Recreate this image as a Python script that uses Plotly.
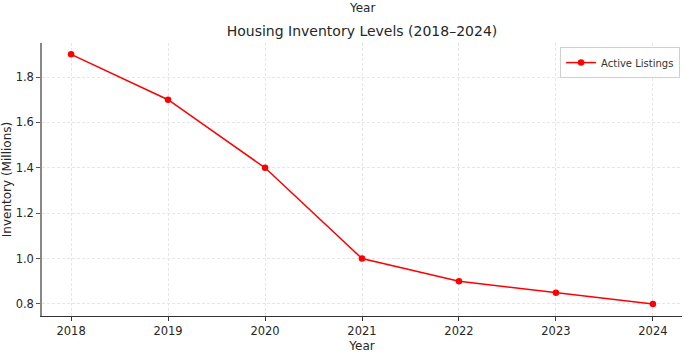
import plotly.graph_objects as go

years = [2018, 2019, 2020, 2021, 2022, 2023, 2024]
inventory = [1.9, 1.7, 1.4, 1.0, 0.9, 0.85, 0.8]
y_ticks = [0.8, 1.0, 1.2, 1.4, 1.6, 1.8]

FONT = "DejaVu Sans"
H = 359
T, B = 43, 43
PH = H - T - B

fig = go.Figure()
fig.add_trace(go.Scatter(
    x=years, y=inventory, mode="lines+markers", name="Active Listings",
    line=dict(color="#ff0000", width=1.5),
    marker=dict(color="#ff0000", size=6.5),
))

fig.update_layout(
    width=697, height=H,
    margin=dict(l=42, r=15, t=T, b=B, autoexpand=False),
    paper_bgcolor="white", plot_bgcolor="white",
    font=dict(family=FONT, size=11.5, color="#262626"),
    title=dict(text="Housing Inventory Levels (2018–2024)", x=0.5, xref="paper",
               xanchor="center",
               y=1 - 31 / H, yref="container", yanchor="middle",
               font=dict(size=14, color="#262626")),
    showlegend=True,
    legend=dict(x=0.997, y=0.985, xanchor="right", yanchor="top",
                bgcolor="white", bordercolor="#d0d0d0", borderwidth=1,
                itemwidth=30,
                font=dict(size=10, color="#333333")),
    annotations=[dict(text="Year", x=0.5, xref="paper",
                      y=1 + (T - 8) / PH, yref="paper",
                      yanchor="middle", showarrow=False,
                      font=dict(size=12, color="#262626"))],
)

fig.update_xaxes(
    range=[2017.7, 2024.3], tickvals=years, ticktext=[str(y) for y in years],
    showline=True, linecolor="#333333", linewidth=1.2,
    ticks="outside", ticklen=4, tickcolor="#333333",
    showgrid=True, gridcolor="#e6e6e6", griddash="3px,2px", gridwidth=0.8,
    zeroline=False, mirror=False, automargin=False,
    title=dict(text="Year", standoff=4, font=dict(size=12)),
)
fig.update_yaxes(
    range=[0.747, 1.95], tickvals=y_ticks, ticktext=[f"{v:.1f}" for v in y_ticks],
    showline=True, linecolor="#888888", linewidth=1.5,
    ticks="outside", ticklen=4, tickcolor="#555555",
    showgrid=True, gridcolor="#e6e6e6", griddash="3px,2px", gridwidth=0.8,
    zeroline=False, mirror=False, automargin=False,
    title=dict(text="Inventory (Millions)", standoff=6, font=dict(size=12)),
)

fig.write_html("out.html",
               config={"displayModeBar": False},
               post_script="document.body.style.margin='0';document.body.style.overflow='hidden';")
